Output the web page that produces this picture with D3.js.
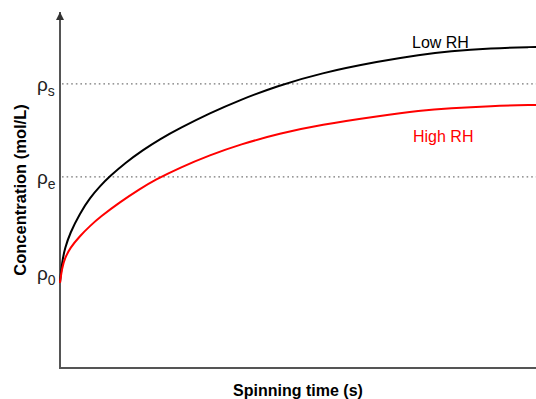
<!DOCTYPE html>
<html>
<head>
<meta charset="utf-8">
<script src="https://cdn.jsdelivr.net/npm/d3@7"></script>
<style>
  body { margin: 0; background: #fff; }
  svg { display: block; font-family: "Liberation Sans", Arial, sans-serif; }
</style>
</head>
<body>
<div id="chart"></div>
<script>
// time in arbitrary units (0-100), concentration in arbitrary units (0-100)
var lowTime  = [0, 0.42, 1.05, 2.1, 4.2, 6.3, 8.4, 10.5, 13.7, 17.4, 21.0, 25.2, 31.5, 37.8, 45.6, 54.6, 67.2, 75.6, 81.9, 90.3, 100]
var lowConc  = [23.9, 29.8, 33.7, 37.9, 43.5, 47.8, 51.1, 53.9, 57.6, 61.2, 64.3, 67.4, 71.6, 75.3, 79.2, 82.8, 86.2, 88.0, 89.0, 89.8, 90.2]
var highTime = [0, 0.42, 1.05, 2.1, 4.2, 6.3, 8.4, 12.6, 16.8, 19.9, 25.2, 31.5, 37.8, 46.2, 54.6, 67.2, 75.6, 81.9, 90.3, 100]
var highConc = [23.9, 28.1, 30.9, 33.7, 37.1, 39.9, 42.4, 46.6, 50.3, 52.8, 56.3, 59.8, 62.8, 65.9, 68.3, 70.8, 72.3, 73.0, 73.6, 73.9]

var levelNames = ['s', 'e', '0']
var levelValues = [79.8, 53.7, 23.9]

var seriesNames = ['Low RH', 'High RH']
var seriesColors = ['#000', '#ff0000']

var width = 536, height = 399
var svg = d3.select('#chart').append('svg').attr('width', width).attr('height', height)

var x = d3.scaleLinear().domain([0, 100]).range([60, 536])
var y = d3.scaleLinear().domain([0, 100]).range([368, 12])

// dotted reference levels (not for rho0)
svg.selectAll('line.level')
  .data(levelValues.slice(0, 2))
  .enter().append('line')
  .attr('x1', x(0) + 2).attr('x2', width)
  .attr('y1', d => y(d)).attr('y2', d => y(d))
  .attr('stroke', '#777').attr('stroke-width', 1.3)
  .attr('stroke-dasharray', '1.6,3')

var defs = svg.append('defs')
defs.append('marker')
  .attr('id', 'arrow')
  .attr('viewBox', '0 0 10 10')
  .attr('refX', 10).attr('refY', 5)
  .attr('markerWidth', 4).attr('markerHeight', 6)
  .attr('markerUnits', 'strokeWidth')
  .attr('orient', 'auto')
  .append('path').attr('d', 'M0,0L10,5L0,10Z').attr('fill', '#333')

// axes
svg.append('line')
  .attr('x1', x(0)).attr('x2', x(0))
  .attr('y1', y(0) + 1).attr('y2', y(100))
  .attr('stroke', '#555').attr('stroke-width', 2)
  .attr('marker-end', 'url(#arrow)')
svg.append('line')
  .attr('x1', x(0) - 1).attr('x2', width)
  .attr('y1', y(0)).attr('y2', y(0))
  .attr('stroke', '#555').attr('stroke-width', 2)

var line = d3.line().curve(d3.curveBasis).x(d => x(d[0])).y(d => y(d[1]))

var series = [
  d3.zip(lowTime, lowConc),
  d3.zip(highTime, highConc)
]

svg.selectAll('path.curve')
  .data(series)
  .enter().append('path')
  .attr('d', line)
  .attr('fill', 'none')
  .attr('stroke', (d, i) => seriesColors[i])
  .attr('stroke-width', 2)

// series labels
var labelPos = [[412, 48], [413, 142]]
svg.selectAll('text.series')
  .data(seriesNames)
  .enter().append('text')
  .attr('x', (d, i) => labelPos[i][0])
  .attr('y', (d, i) => labelPos[i][1])
  .attr('fill', (d, i) => seriesColors[i])
  .attr('font-size', 16)
  .text(d => d)

// rho labels
var rhoDy = [7, 7, -3]
var rho = svg.selectAll('text.rho')
  .data(levelNames)
  .enter().append('text')
  .attr('x', 37)
  .attr('y', (d, i) => y(levelValues[i]) + rhoDy[i])
  .attr('font-size', 19)
  .attr('fill', '#222')
rho.append('tspan').text('\u03c1')
rho.append('tspan')
  .attr('font-size', 14)
  .attr('dy', 5)
  .text(d => d)

// axis titles
svg.append('text')
  .attr('x', 298).attr('y', 396)
  .attr('text-anchor', 'middle')
  .attr('font-size', 16).attr('font-weight', 'bold')
  .text('Spinning time (s)')

svg.append('text')
  .attr('transform', 'translate(26,190) rotate(-90)')
  .attr('text-anchor', 'middle')
  .attr('font-size', 16.5).attr('font-weight', 'bold')
  .text('Concentration (mol/L)')
</script>
</body>
</html>
